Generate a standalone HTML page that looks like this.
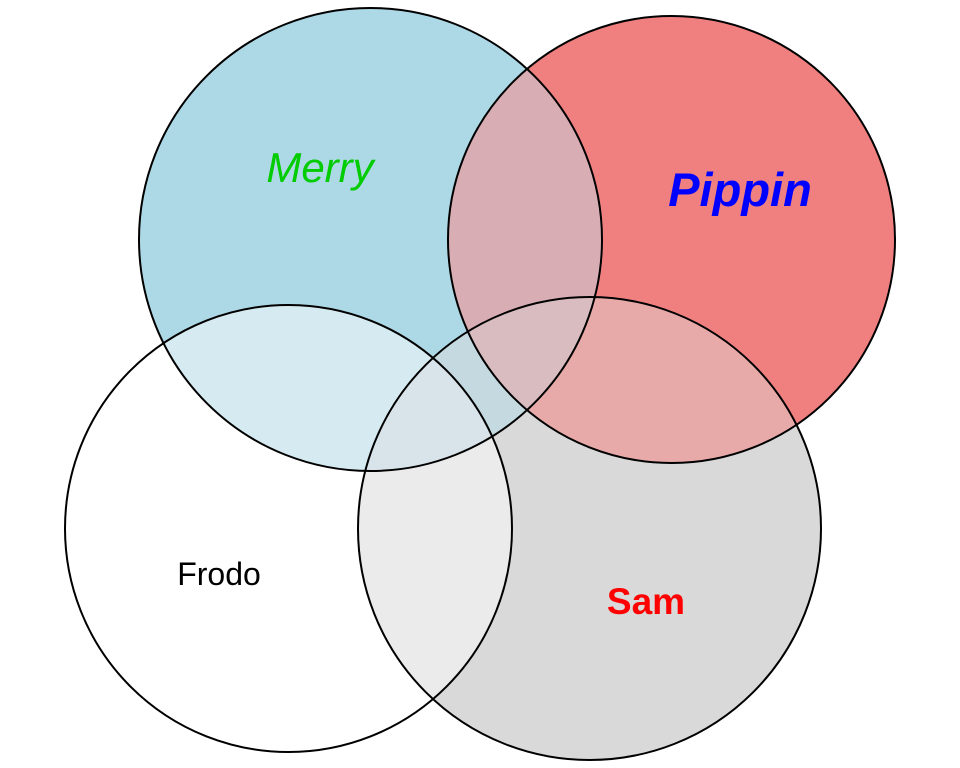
<!DOCTYPE html>
<html><head><meta charset="utf-8"><style>body{margin:0;background:#fff}svg{display:block}</style></head><body>
<svg width="960" height="768" viewBox="0 0 960 768" xmlns="http://www.w3.org/2000/svg">
<defs>
<clipPath id="cM"><circle cx="370.5" cy="239.5" r="231.5"/></clipPath>
<clipPath id="cP"><circle cx="671.5" cy="239.5" r="223.5"/></clipPath>
<clipPath id="cF"><circle cx="288.5" cy="528.5" r="223.5"/></clipPath>
<clipPath id="cS"><circle cx="589.5" cy="528.5" r="231.5"/></clipPath>
</defs>
<rect width="960" height="768" fill="#fff"/>
<circle cx="370.5" cy="239.5" r="231.5" fill="#add8e6"/>
<circle cx="671.5" cy="239.5" r="223.5" fill="#f08080"/>
<circle cx="589.5" cy="528.5" r="231.5" fill="#d9d9d9"/>
<circle cx="288.5" cy="528.5" r="223.5" fill="#ffffff"/>
<g clip-path="url(#cM)"><rect width="960" height="768" fill="#d8adb3" clip-path="url(#cP)"/></g>
<g clip-path="url(#cM)"><rect width="960" height="768" fill="#d6ebf1" clip-path="url(#cF)"/></g>
<g clip-path="url(#cM)"><rect width="960" height="768" fill="#c4dae0" clip-path="url(#cS)"/></g>
<g clip-path="url(#cF)"><rect width="960" height="768" fill="#ebebeb" clip-path="url(#cS)"/></g>
<g clip-path="url(#cP)"><rect width="960" height="768" fill="#e8aaa8" clip-path="url(#cS)"/></g>
<g clip-path="url(#cM)"><g clip-path="url(#cP)"><rect width="960" height="768" fill="#d9bcc0" clip-path="url(#cS)"/></g></g>
<g clip-path="url(#cM)"><g clip-path="url(#cF)"><rect width="960" height="768" fill="#d8e4ea" clip-path="url(#cS)"/></g></g>
<g fill="none" stroke="#000" stroke-width="2">
<circle cx="370.5" cy="239.5" r="231.5"/>
<circle cx="671.5" cy="239.5" r="223.5"/>
<circle cx="589.5" cy="528.5" r="231.5"/>
<circle cx="288.5" cy="528.5" r="223.5"/>
</g>
<g font-family="Liberation Sans, sans-serif" text-anchor="middle">
<text x="320" y="182" font-size="42" font-style="italic" fill="#00cc00">Merry</text>
<text x="740" y="206" font-size="47" font-style="italic" font-weight="bold" fill="#0000ff">Pippin</text>
<text x="219" y="585" font-size="32" fill="#000">Frodo</text>
<text x="646" y="614" font-size="37" font-weight="bold" fill="#ff0000">Sam</text>
</g>
</svg>
</body></html>
